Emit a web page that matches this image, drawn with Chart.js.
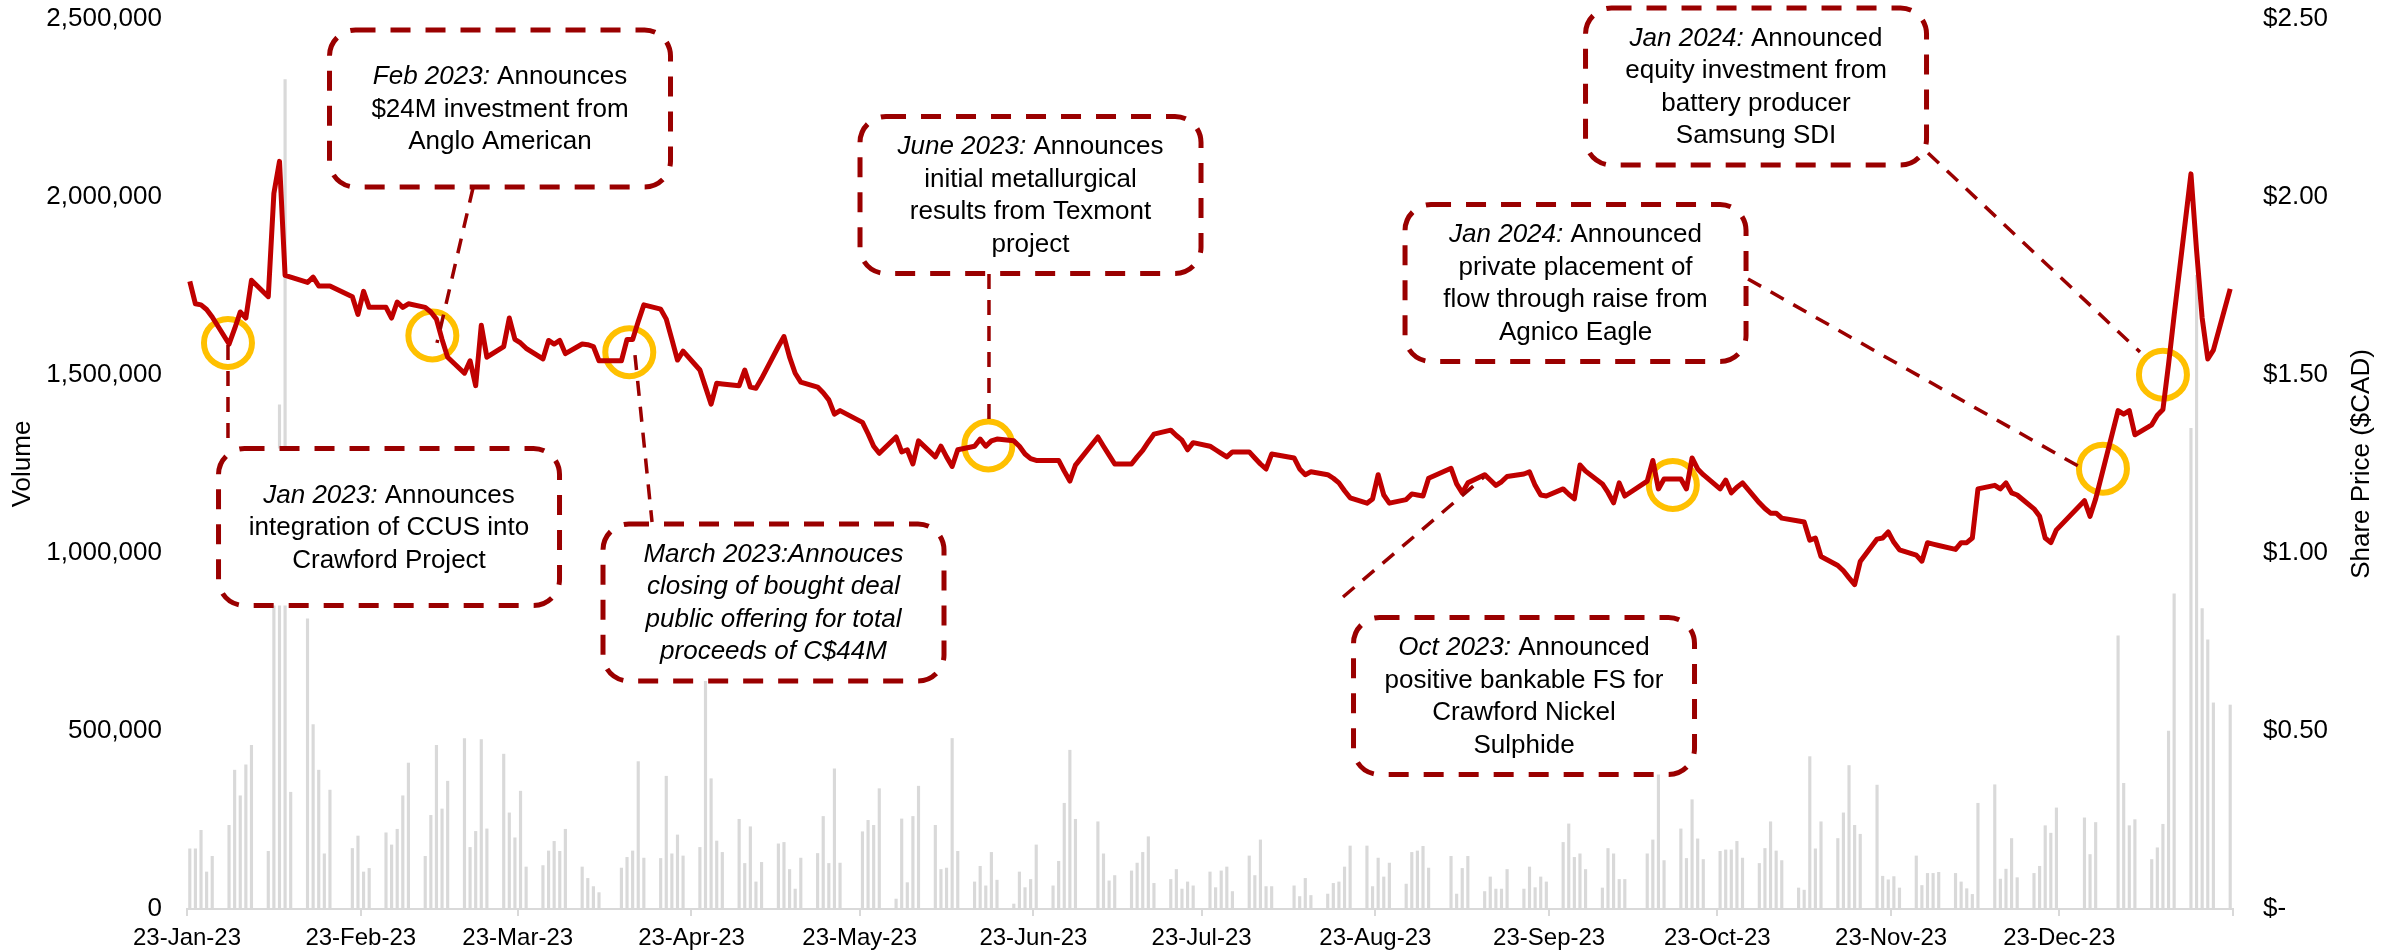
<!DOCTYPE html>
<html>
<head>
<meta charset="utf-8">
<script src="https://cdn.jsdelivr.net/npm/chart.js@4.4.1/dist/chart.umd.min.js"></script>
<style>
  html, body { margin: 0; padding: 0; background: #ffffff; }
  #wrap { width: 2402px; height: 951px; }
</style>
</head>
<body>
<div id="wrap"><canvas id="chart" width="2402" height="951"></canvas></div>
<script>
// trading calendar (TSX)
const START = "2023-01-23";
const END = "2024-01-22";
const HOLIDAYS = [
  "2023-02-20", "2023-04-07", "2023-05-22", "2023-07-03", "2023-08-07",
  "2023-09-04", "2023-10-09", "2023-12-25", "2023-12-26", "2024-01-01",
];

// daily volume, one line per week
const VOLUMES = [
  169000, 169000, 221000, 104000, 148000,
  235000, 390000, 318000, 405000, 460000,
  162000, 1050000, 1416000, 2330000, 328000,
  815000, 518000, 390000, 155000, 334000,
  170000, 205000, 104000, 114000,
  214000, 180000, 224000, 318000, 410000,
  148000, 263000, 460000, 281000, 359000,
  479000, 173000, 218000, 476000, 225000,
  435000, 270000, 200000, 331000, 118000,
  122000, 163000, 190000, 162000, 224000,
  118000, 86000, 63000, 46000,
  115000, 145000, 163000, 414000, 143000,
  142000, 373000, 155000, 208000, 149000,
  173000, 750000, 366000, 191000, 159000,
  252000, 128000, 231000, 76000, 131000,
  183000, 187000, 111000, 56000, 143000,
  156000, 260000, 128000, 394000, 129000,
  217000, 249000, 235000, 338000,
  28000, 253000, 74000, 260000, 345000,
  235000, 111000, 115000, 479000, 162000,
  76000, 120000, 65000, 159000, 81000,
  14000, 104000, 60000, 83000, 180000,
  65000, 134000, 297000, 446000, 252000,
  245000, 155000, 79000, 94000,
  107000, 129000, 159000, 203000, 72000,
  83000, 111000, 56000, 76000, 65000,
  104000, 60000, 107000, 118000, 49000,
  149000, 94000, 194000, 63000, 63000,
  65000, 35000, 86000, 38000,
  42000, 72000, 76000, 118000, 177000,
  177000, 63000, 143000, 90000, 129000,
  70000, 159000, 163000, 176000, 115000,
  148000, 42000, 114000, 148000,
  49000, 90000, 56000, 56000, 111000,
  56000, 118000, 60000, 90000, 76000,
  187000, 239000, 145000, 155000, 111000,
  59000, 170000, 155000, 83000, 83000,
  155000, 194000, 380000, 136000,
  225000, 142000, 307000, 197000, 139000,
  162000, 166000, 166000, 190000, 143000,
  128000, 170000, 245000, 163000, 136000,
  59000, 53000, 428000, 169000, 245000,
  198000, 270000, 403000, 235000, 210000,
  348000, 92000, 82000, 91000, 59000,
  149000, 66000, 100000, 100000, 103000,
  100000, 76000, 57000, 41000, 297000,
  349000, 84000, 112000, 198000, 88000,
  100000, 120000, 234000, 213000, 284000,
  256000, 153000, 243000,
  767000, 353000, 234000, 251000,
  139000, 172000, 238000, 500000, 885000,
  1350000, 1780000, 844000, 756000, 579000,
  573000,
];

// daily close ($CAD), same layout
const PRICES = [
  1.763, 1.70, 1.697, 1.684, 1.663,
  1.587, 1.63, 1.677, 1.66, 1.766,
  1.72, 2.01, 2.10, 1.78, 1.775,
  1.76, 1.775, 1.75, 1.75, 1.75,
  1.72, 1.67, 1.735, 1.69,
  1.69, 1.66, 1.705, 1.69, 1.70,
  1.69, 1.677, 1.657, 1.60, 1.55,
  1.505, 1.54, 1.47, 1.64, 1.55,
  1.58, 1.66, 1.60, 1.59, 1.575,
  1.545, 1.597, 1.587, 1.597, 1.56,
  1.587, 1.585, 1.58, 1.54,
  1.54, 1.60, 1.60, 1.65, 1.697,
  1.685, 1.657, 1.60, 1.542, 1.567,
  1.514, 1.466, 1.418, 1.477, 1.475,
  1.47, 1.514, 1.466, 1.463, 1.49,
  1.58, 1.608, 1.55, 1.505, 1.48,
  1.466, 1.45, 1.43, 1.39, 1.40,
  1.367, 1.335, 1.30, 1.28,
  1.326, 1.284, 1.29, 1.25, 1.315,
  1.27, 1.30, 1.27, 1.243, 1.29,
  1.30, 1.32, 1.30, 1.315, 1.32,
  1.315, 1.30, 1.278, 1.265, 1.26,
  1.26, 1.26, 1.23, 1.202, 1.247,
  1.326, 1.30, 1.275, 1.25,
  1.25, 1.27, 1.288, 1.312, 1.334,
  1.345, 1.33, 1.317, 1.29, 1.31,
  1.30, 1.29, 1.28, 1.27, 1.284,
  1.284, 1.267, 1.25, 1.236, 1.278,
  1.267, 1.236, 1.22, 1.228,
  1.22, 1.21, 1.197, 1.175, 1.155,
  1.14, 1.152, 1.22, 1.163, 1.14,
  1.15, 1.166, 1.163, 1.16, 1.21,
  1.238, 1.194, 1.169, 1.197,
  1.22, 1.205, 1.19, 1.20, 1.215,
  1.222, 1.228, 1.19, 1.163, 1.16,
  1.18, 1.165, 1.152, 1.247, 1.23,
  1.194, 1.17, 1.141, 1.197, 1.16,
  1.202, 1.26, 1.18, 1.208,
  1.208, 1.18, 1.267, 1.236, 1.22,
  1.18, 1.205, 1.169, 1.185, 1.197,
  1.141, 1.125, 1.112, 1.112, 1.098,
  1.09, 1.087, 1.036, 1.042, 0.99,
  0.965, 0.95, 0.93, 0.911, 0.976,
  1.039, 1.042, 1.059, 1.03, 1.009,
  0.994, 0.977, 1.029, 1.025, 1.021,
  1.01, 1.029, 1.029, 1.042, 1.18,
  1.19, 1.18, 1.197, 1.169, 1.163,
  1.124, 1.103, 1.042, 1.029, 1.065,
  1.147, 1.103, 1.152,
  1.40, 1.39, 1.40, 1.332,
  1.36, 1.387, 1.403, 1.53, 1.668,
  2.065, 1.85, 1.66, 1.545, 1.57,
  1.742,
];

// x axis: days since 23-Jan-23
const TICK_DAYS = [0, 31, 59, 90, 120, 151, 181, 212, 243, 273, 304, 334, 365];
const TICK_LABELS = [
  "23-Jan-23", "23-Feb-23", "23-Mar-23", "23-Apr-23", "23-May-23", "23-Jun-23",
  "23-Jul-23", "23-Aug-23", "23-Sep-23", "23-Oct-23", "23-Nov-23", "23-Dec-23", "",
];

// yellow rings (day, price)
const MARKER_DAYS = [7.31, 43.77, 78.9, 142.96, 265.07, 341.8, 352.5];
const MARKER_PRICES = [1.59, 1.611, 1.564, 1.302, 1.191, 1.237, 1.501];

// callouts: box centre and leader ends in (day, price)
const NOTES = [
  { head: ["Jan 2023:", " Announces"], rest: ["integration of CCUS into", "Crawford Project"],
    at: [36.04, 1.073], from: [7.31, 1.584], to: [7.31, 1.292] },
  { head: ["Feb 2023:", " Announces"], rest: ["$24M investment from", "Anglo American"],
    at: [55.84, 2.2486], from: [51.02, 2.0253], to: [44.6, 1.59] },
  { head: ["March 2023:Annouces", ""], rest: ["closing of bought deal", "public offering for total", "proceeds of C$44M"],
    at: [104.63, 0.861], from: [79.92, 1.556], to: [82.96, 1.087], italic: true },
  { head: ["June 2023:", " Announces"], rest: ["initial metallurgical", "results from Texmont", "project"],
    at: [150.48, 2.0056], from: [143.07, 1.7837], to: [143.07, 1.3511] },
  { head: ["Oct 2023:", " Announced"], rest: ["positive bankable FS for", "Crawford Nickel", "Sulphide"],
    at: [238.52, 0.5983], from: [206.23, 0.8764], to: [231.38, 1.2135] },
  { head: ["Jan 2024:", " Announced"], rest: ["private placement of", "flow through raise from", "Agnico Eagle"],
    at: [247.71, 1.7584], from: [278.48, 1.7697], to: [337.35, 1.2444] },
  { head: ["Jan 2024:", " Announced"], rest: ["equity investment from", "battery producer", "Samsung SDI"],
    at: [279.91, 2.3104], from: [310.59, 2.1236], to: [348.41, 1.5646] },
];

const FONT = '"Liberation Sans", Arial, Helvetica, sans-serif';
const DARK_RED = "#9a0000";
const BOX_W = 341;
const BOX_H = 157;

const DAY_MS = 86400000;
const t0 = Date.parse(START + "T00:00:00Z");
const tEnd = Date.parse(END + "T00:00:00Z");
const tradingDays = [];
for (let t = t0; t <= tEnd; t += DAY_MS) {
  const d = new Date(t);
  const wd = d.getUTCDay();
  if (wd === 0 || wd === 6) continue;
  if (HOLIDAYS.includes(d.toISOString().slice(0, 10))) continue;
  tradingDays.push((t - t0) / DAY_MS);
}

// excel date axis: each point sits mid-day
const volumePoints = tradingDays.map((d, i) => ({ x: d + 0.5, y: VOLUMES[i] }));
const pricePoints = tradingDays.map((d, i) => ({ x: d + 0.5, y: PRICES[i] }));
const markerPoints = MARKER_DAYS.map((d, i) => ({ x: d, y: MARKER_PRICES[i] }));

function roundedBox(ctx, l, t, w, h, r) {
  ctx.beginPath();
  ctx.moveTo(l + r, t);
  ctx.lineTo(l + w - r, t);
  ctx.arcTo(l + w, t, l + w, t + r, r);
  ctx.lineTo(l + w, t + h - r);
  ctx.arcTo(l + w, t + h, l + w - r, t + h, r);
  ctx.lineTo(l + r, t + h);
  ctx.arcTo(l, t + h, l, t + h - r, r);
  ctx.lineTo(l, t + r);
  ctx.arcTo(l, t, l + r, t, r);
  ctx.closePath();
}

// keep the plot box fixed: the y axes would otherwise push it in by their tick padding
function fixWidth(width) {
  return (axis) => {
    axis.width = width;
    axis.paddingTop = 0;
    axis.paddingBottom = 0;
  };
}

const notesPlugin = {
  id: "notes",
  afterDatasetsDraw(chart) {
    const { ctx, scales } = chart;
    const px = (v) => scales.x.getPixelForValue(v);
    const py = (v) => scales.y1.getPixelForValue(v);
    ctx.save();

    ctx.strokeStyle = DARK_RED;
    ctx.lineWidth = 3.5;
    ctx.setLineDash([15, 11]);
    NOTES.forEach((n) => {
      ctx.beginPath();
      ctx.moveTo(px(n.from[0]), py(n.from[1]));
      ctx.lineTo(px(n.to[0]), py(n.to[1]));
      ctx.stroke();
    });

    NOTES.forEach((n) => {
      const cx = px(n.at[0]);
      const cy = py(n.at[1]);
      const l = cx - BOX_W / 2;
      const t = cy - BOX_H / 2;
      roundedBox(ctx, l, t, BOX_W, BOX_H, 26);
      ctx.fillStyle = "#ffffff";
      ctx.fill();
      ctx.setLineDash([20, 15]);
      ctx.lineWidth = 5;
      ctx.strokeStyle = DARK_RED;
      ctx.stroke();

      const normal = `26px ${FONT}`;
      const italic = `italic 26px ${FONT}`;
      const lines = 1 + n.rest.length;
      const lh = 32.5;
      const y0 = cy - ((lines - 1) * lh) / 2 + 1;
      ctx.fillStyle = "#000000";
      ctx.textBaseline = "middle";
      ctx.textAlign = "left";

      ctx.font = italic;
      const w1 = ctx.measureText(n.head[0]).width;
      ctx.font = n.italic ? italic : normal;
      const w2 = ctx.measureText(n.head[1]).width;
      const x = cx - (w1 + w2) / 2;
      ctx.font = italic;
      ctx.fillText(n.head[0], x, y0);
      ctx.font = n.italic ? italic : normal;
      ctx.fillText(n.head[1], x + w1, y0);

      ctx.textAlign = "center";
      n.rest.forEach((s, i) => {
        ctx.fillText(s, cx, y0 + (i + 1) * lh);
      });
    });
    ctx.restore();
  },
  afterDraw(chart) {
    const { ctx, chartArea } = chart;
    const midY = (chartArea.top + chartArea.bottom) / 2;
    ctx.save();
    ctx.fillStyle = "#000000";
    ctx.font = `26px ${FONT}`;
    ctx.textAlign = "center";
    ctx.textBaseline = "middle";
    [["Volume", 23], ["Share Price ($CAD)", 2362]].forEach(([label, x]) => {
      ctx.save();
      ctx.translate(x, midY);
      ctx.rotate(-Math.PI / 2);
      ctx.fillText(label, 0, 0);
      ctx.restore();
    });
    ctx.restore();
  },
};

Chart.defaults.font.family = FONT;
Chart.defaults.color = "#000000";

new Chart(document.getElementById("chart"), {
  type: "bar",
  data: {
    datasets: [
      {
        type: "bar",
        label: "Volume",
        data: volumePoints,
        yAxisID: "y",
        backgroundColor: "#d9d9d9",
        barThickness: 2.5,
        order: 3,
      },
      {
        type: "line",
        label: "Events",
        data: markerPoints,
        yAxisID: "y1",
        showLine: false,
        pointRadius: 24,
        pointBorderWidth: 6,
        pointBorderColor: "#ffc000",
        pointBackgroundColor: "rgba(0,0,0,0)",
        clip: false,
        order: 2,
      },
      {
        type: "line",
        label: "Share Price",
        data: pricePoints,
        yAxisID: "y1",
        borderColor: "#c00000",
        borderWidth: 5,
        borderJoinStyle: "round",
        pointRadius: 0,
        tension: 0,
        order: 1,
      },
    ],
  },
  options: {
    responsive: false,
    animation: false,
    devicePixelRatio: 1,
    layout: { autoPadding: false, padding: { top: 19, right: 0, bottom: 0, left: 0 } },
    plugins: {
      legend: { display: false },
      tooltip: { enabled: false },
    },
    scales: {
      x: {
        type: "linear",
        min: 0,
        max: 365,
        offset: false,
        afterBuildTicks: (axis) => {
          axis.ticks = TICK_DAYS.map((v) => ({ value: v }));
        },
        afterFit: (axis) => {
          axis.height = 42;
        },
        ticks: {
          autoSkip: false,
          maxRotation: 0,
          minRotation: 0,
          padding: 8,
          color: "#000000",
          font: { size: 24 },
          callback: (v, i) => TICK_LABELS[i] ?? "",
        },
        grid: {
          drawOnChartArea: false,
          drawTicks: true,
          tickLength: 7,
          color: "#d9d9d9",
          lineWidth: 2,
          offset: false,
        },
        border: { display: true, color: "#d9d9d9", width: 2 },
      },
      y: {
        position: "left",
        min: 0,
        max: 2500000,
        afterFit: fixWidth(187),
        ticks: {
          stepSize: 500000,
          padding: 25,
          color: "#000000",
          font: { size: 26 },
          callback: (v) => Number(v).toLocaleString("en-US"),
        },
        grid: { display: false, drawTicks: false },
        border: { display: false },
      },
      y1: {
        position: "right",
        min: 0,
        max: 2.5,
        afterFit: fixWidth(169),
        ticks: {
          stepSize: 0.5,
          padding: 30,
          color: "#000000",
          font: { size: 26 },
          callback: (v) => (v === 0 ? "$-" : "$" + Number(v).toFixed(2)),
        },
        grid: { display: false, drawTicks: false },
        border: { display: false },
      },
    },
  },
  plugins: [notesPlugin],
});
</script>
</body>
</html>
